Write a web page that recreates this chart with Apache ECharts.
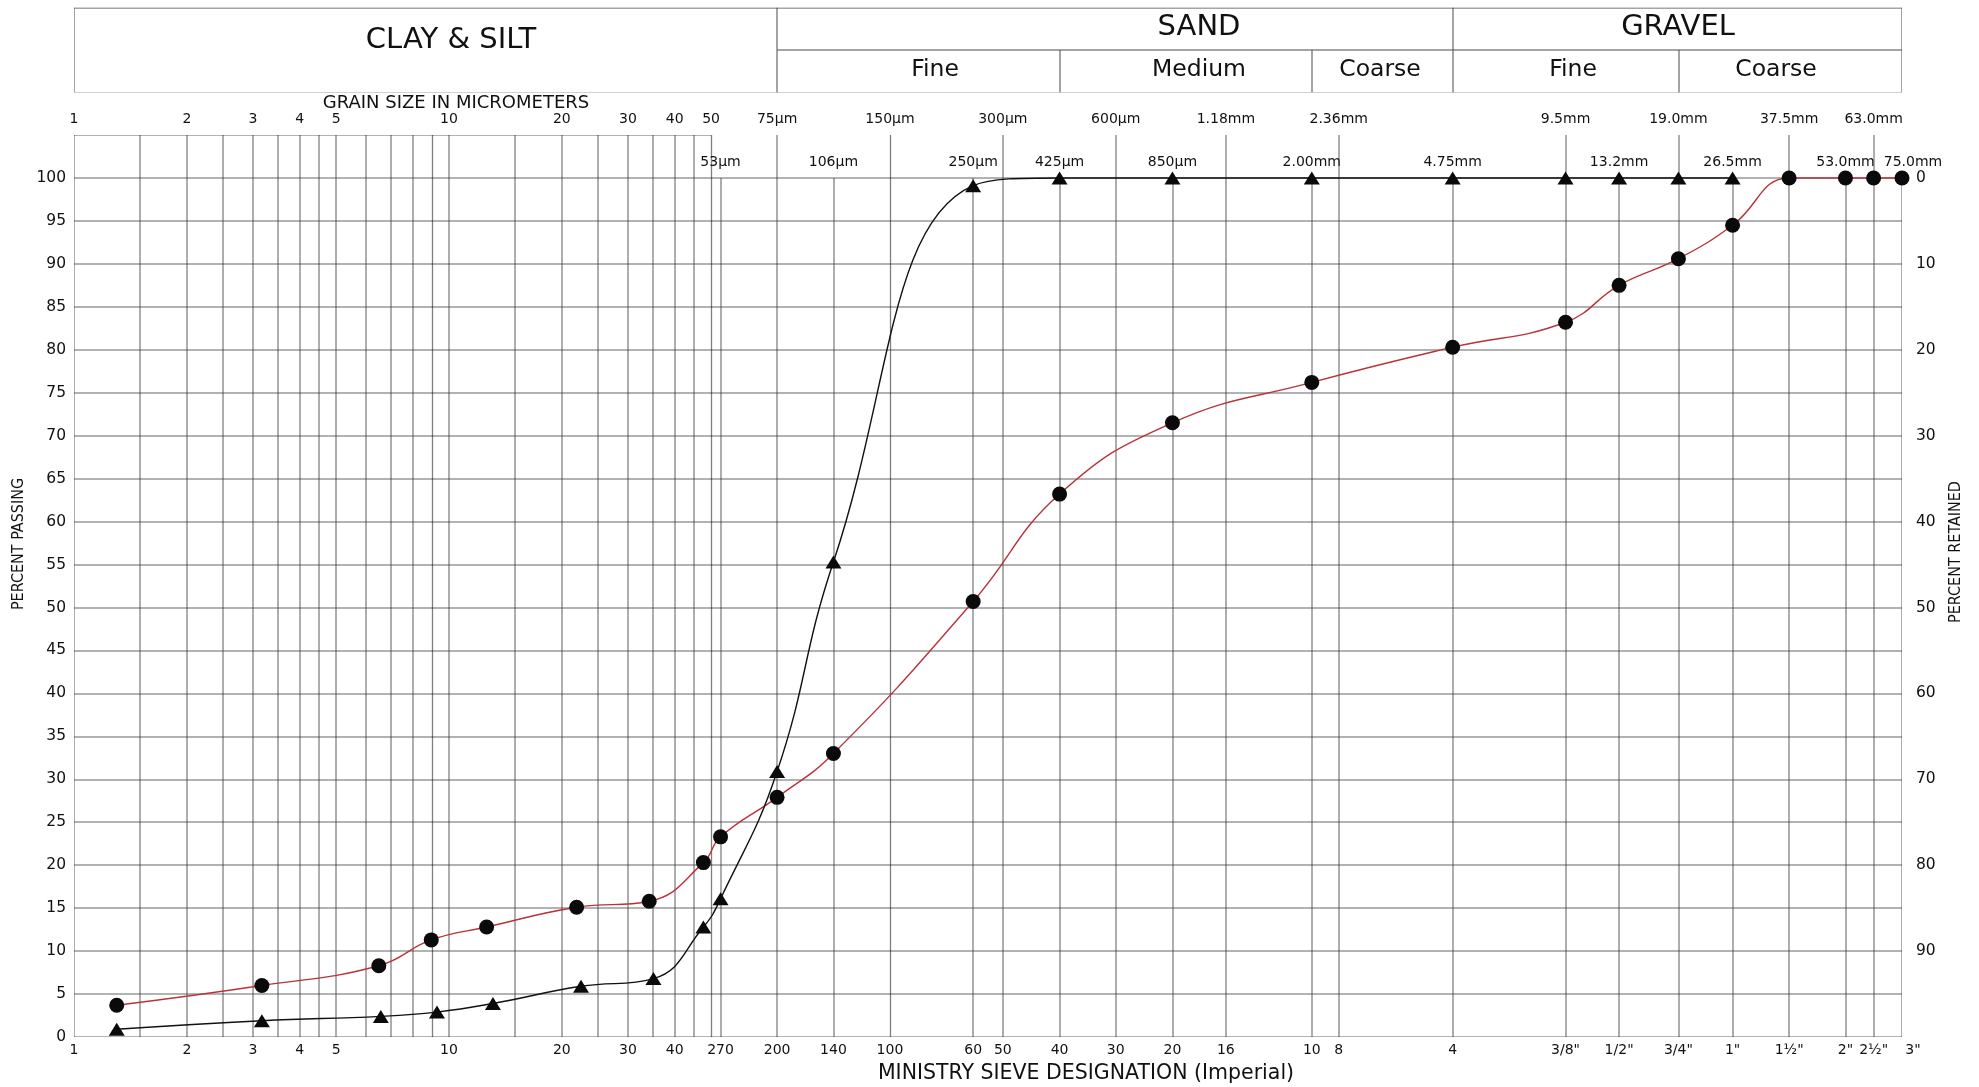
<!DOCTYPE html>
<html><head><meta charset="utf-8">
<script src="https://cdn.jsdelivr.net/npm/echarts@6/dist/echarts.min.js"></script>
<style>html,body{margin:0;padding:0;background:#fff}#c{width:1979px;height:1087px}</style>
</head><body><div id="c"></div>
<script>
// ---- data (grain size in micrometres, percent passing) ----
const SIZES_RED = [1.30, 3.17, 6.5, 8.97, 12.6, 21.9, 34.2, 47.7, 53, 75, 106, 250, 425, 850, 2000, 4750, 9500, 13200, 19000, 26500, 37500, 53000, 63000, 75000];
const PASS_RED  = [3.7, 6.0, 8.3, 11.3, 12.8, 15.1, 15.8, 20.3, 23.3, 27.9, 33.0, 50.7, 63.2, 71.5, 76.2, 80.3, 83.2, 87.5, 90.6, 94.5, 100, 100, 100, 100];
const SIZES_BLACK = [1.30, 3.17, 6.58, 9.29, 13.1, 22.5, 35.1, 47.7, 53, 75, 106, 250, 425, 850, 2000, 4750, 9500, 13200, 19000, 26500];
const PASS_BLACK  = [0.9, 1.9, 2.4, 2.9, 3.9, 5.9, 6.8, 12.8, 16.1, 30.9, 55.3, 99.1, 100, 100, 100, 100, 100, 100, 100, 100];

// ---- axis / grid values ----
const Y_GRID = [0, 5, 10, 15, 20, 25, 30, 35, 40, 45, 50, 55, 60, 65, 70, 75, 80, 85, 90, 95, 100];
const MICRO_LINES = [1, 1.5, 2, 2.5, 3, 3.5, 4, 4.5, 5, 6, 7, 8, 9, 10, 15, 20, 25, 30, 35, 40, 45, 50];
const TOP_SIEVES = [75, 150, 300, 600, 1180, 2360, 9500, 19000, 37500, 63000];
const LOW_SIEVES = [53, 106, 250, 425, 850, 2000, 4750, 13200, 26500, 53000, 75000];
const DARK_LINES = [9, 50, 150];

const TOP1_VALUES = [1, 2, 3, 4, 5, 10, 20, 30, 40, 50, 75, 150, 300, 600, 1180, 2360, 9500, 19000, 37500, 63000];
const TOP1_LABELS = ['1','2','3','4','5','10','20','30','40','50','75µm','150µm','300µm','600µm','1.18mm','2.36mm','9.5mm','19.0mm','37.5mm','63.0mm'];
const TOP2_VALUES = [53, 106, 250, 425, 850, 2000, 4750, 13200, 26500, 53000, 75000];
const TOP2_LABELS = ['53µm','106µm','250µm','425µm','850µm','2.00mm','4.75mm','13.2mm','26.5mm','53.0mm','75.0mm'];
const BOTTOM_VALUES = [1, 2, 3, 4, 5, 10, 20, 30, 40, 53, 75, 106, 150, 250, 300, 425, 600, 850, 1180, 2000, 2360, 4750, 9500, 13200, 19000, 26500, 37500, 53000, 63000, 75000];
const BOTTOM_LABELS = ['1','2','3','4','5','10','20','30','40','270','200','140','100','60','50','40','30','20','16','10','8','4','3/8"','1/2"','3/4"','1"','1½"','2"','2½"','3"'];

const HEADER_FULL_DIVS = [1, 75, 4750, 75000];
const HEADER_HALF_DIVS = [425, 2000, 19000];

// ---- helpers ----
const X_MIN = 1, X_MAX = 75000, Y_TOP = 105;
const FONT = 'DejaVu Sans';
const GRAY = { color: '#333333', width: 1.6 };
const DARK = { color: '#000', width: 1.3 };

function makeFmt(vals, labels, shiftLast) {
  return function (v, i) {
    let k = -1;
    for (let j = 0; j < vals.length; j++) {
      if (Math.abs(Math.log10(v) - Math.log10(vals[j])) < 1e-4 || Math.abs(v - Math.log10(vals[j])) < 1e-4) { k = j; break; }
    }
    const s = k >= 0 ? labels[k] : (labels[i] !== undefined ? labels[i] : '');
    if (shiftLast && k === vals.length - 1) return '{p|' + s + '}';
    return s;
  };
}

const gridLines = [];
Y_GRID.forEach(v => gridLines.push({ coords: [[X_MIN, v], [X_MAX, v]], lineStyle: GRAY }));
gridLines.push({ coords: [[1, Y_TOP], [50, Y_TOP]], lineStyle: GRAY });
MICRO_LINES.concat(TOP_SIEVES).forEach(x => gridLines.push({ coords: [[x, 0], [x, Y_TOP]], lineStyle: DARK_LINES.indexOf(x) >= 0 ? DARK : GRAY }));
LOW_SIEVES.forEach(x => gridLines.push({ coords: [[x, 0], [x, 100]], lineStyle: GRAY }));

const HSTYLE = { color: '#4a4a4a', width: 2 };
const headerLines = [
  { coords: [[X_MIN, 0], [X_MAX, 0]], lineStyle: HSTYLE },
  { coords: [[X_MIN, 2], [X_MAX, 2]], lineStyle: HSTYLE },
  { coords: [[75, 1], [X_MAX, 1]], lineStyle: HSTYLE }
];
HEADER_FULL_DIVS.forEach(x => headerLines.push({ coords: [[x, 0], [x, 2]], lineStyle: HSTYLE }));
HEADER_HALF_DIVS.forEach(x => headerLines.push({ coords: [[x, 0], [x, 1]], lineStyle: HSTYLE }));

const logAxisBase = { type: 'log', logBase: 10, min: X_MIN, max: X_MAX, axisLine: { show: false }, axisTick: { show: false }, splitLine: { show: false } };
const tickLabel = { fontFamily: FONT, fontSize: 14, color: '#111', verticalAlign: 'middle', showMinLabel: true, showMaxLabel: true, hideOverlap: false,
  rich: { p: { fontFamily: FONT, fontSize: 14, color: '#111', padding: [0, 0, 0, 22] } } };

function txt(text, x, y, size) {
  return {
    type: 'text', x: x, y: y,
    style: { text: text, font: size + 'px "' + FONT + '"', fill: '#111', align: 'center', verticalAlign: 'middle', textAlign: 'center', textVerticalAlign: 'middle' }
  };
}
function rotTxt(text, x, y, size) {
  return {
    type: 'text', x: x, y: y, rotation: Math.PI / 2,
    style: { text: text, font: size + 'px "Liberation Sans Narrow", "DejaVu Sans Condensed", "Liberation Sans", sans-serif', fill: '#111', align: 'center', verticalAlign: 'middle', textAlign: 'center', textVerticalAlign: 'middle' }
  };
}

const option = {
  animation: false,
  backgroundColor: '#fff',
  grid: [
    { left: 74, right: 77, top: 135, bottom: 50 },
    { left: 74, right: 77, top: 7.5, height: 85 }
  ],
  xAxis: [
    Object.assign({}, logAxisBase, { gridIndex: 0, position: 'bottom',
      axisLabel: Object.assign({}, tickLabel, { margin: 13, customValues: BOTTOM_VALUES, formatter: makeFmt(BOTTOM_VALUES, BOTTOM_LABELS, true) }) }),
    Object.assign({}, logAxisBase, { gridIndex: 0, position: 'top', offset: 16,
      axisLabel: Object.assign({}, tickLabel, { margin: 0, customValues: TOP1_VALUES, formatter: makeFmt(TOP1_VALUES, TOP1_LABELS, false) }) }),
    Object.assign({}, logAxisBase, { gridIndex: 0, position: 'top', offset: -27,
      axisLabel: Object.assign({}, tickLabel, { margin: 0, customValues: TOP2_VALUES, formatter: makeFmt(TOP2_VALUES, TOP2_LABELS, true) }) }),
    Object.assign({}, logAxisBase, { gridIndex: 1, axisLabel: { show: false } })
  ],
  yAxis: [
    { type: 'value', gridIndex: 0, position: 'left', min: 0, max: Y_TOP, interval: 5,
      axisLine: { show: false }, axisTick: { show: false }, splitLine: { show: false },
      axisLabel: { margin: 8, fontFamily: FONT, fontSize: 15.5, color: '#111', formatter: v => (v > 100 ? '' : String(v)) } },
    { type: 'value', gridIndex: 0, position: 'right', min: 0, max: Y_TOP, interval: 10,
      axisLine: { show: false }, axisTick: { show: false }, splitLine: { show: false },
      axisLabel: { margin: 14, fontFamily: FONT, fontSize: 15.5, color: '#111', formatter: v => ((v >= 10 && v <= 100) ? String(100 - v) : '') } },
    { type: 'value', gridIndex: 1, min: 0, max: 2, show: false, splitLine: { show: false } }
  ],
  series: [
    { type: 'lines', coordinateSystem: 'cartesian2d', xAxisIndex: 0, yAxisIndex: 0, silent: true, z: 1, data: gridLines },
    { type: 'lines', coordinateSystem: 'cartesian2d', xAxisIndex: 3, yAxisIndex: 2, silent: true, z: 1, data: headerLines },
    { name: 'Sample A', type: 'line', xAxisIndex: 0, yAxisIndex: 0, z: 4,
      data: SIZES_RED.map((s, i) => [s, PASS_RED[i]]),
      smooth: 0.45, lineStyle: { color: '#b8323c', width: 1.4 },
      symbol: 'circle', symbolSize: 15, itemStyle: { color: '#0a0a0a' } },
    { name: 'Sample B', type: 'line', xAxisIndex: 0, yAxisIndex: 0, z: 5,
      data: SIZES_BLACK.map((s, i) => [s, PASS_BLACK[i]]),
      smooth: 0.45, lineStyle: { color: '#111', width: 1.4 },
      symbol: 'triangle', symbolSize: [16, 13], itemStyle: { color: '#0a0a0a' } }
  ],
  graphic: [
    txt('CLAY & SILT', 451, 40, 29),
    txt('SAND', 1199, 27, 29),
    txt('GRAVEL', 1678, 27, 29),
    txt('Fine', 935, 70, 23.5),
    txt('Medium', 1199, 70, 23.5),
    txt('Coarse', 1380, 70, 23.5),
    txt('Fine', 1573, 70, 23.5),
    txt('Coarse', 1776, 70, 23.5),
    txt('GRAIN SIZE IN MICROMETERS', 456, 103, 18),
    txt('MINISTRY SIEVE DESIGNATION (Imperial)', 1086, 1074, 20.5),
    rotTxt('PERCENT PASSING', 19, 544, 16),
    rotTxt('PERCENT RETAINED', 1956, 552, 16)
  ]
};
const chart = echarts.init(document.getElementById('c'));
chart.setOption(option);
</script>
</body></html>
